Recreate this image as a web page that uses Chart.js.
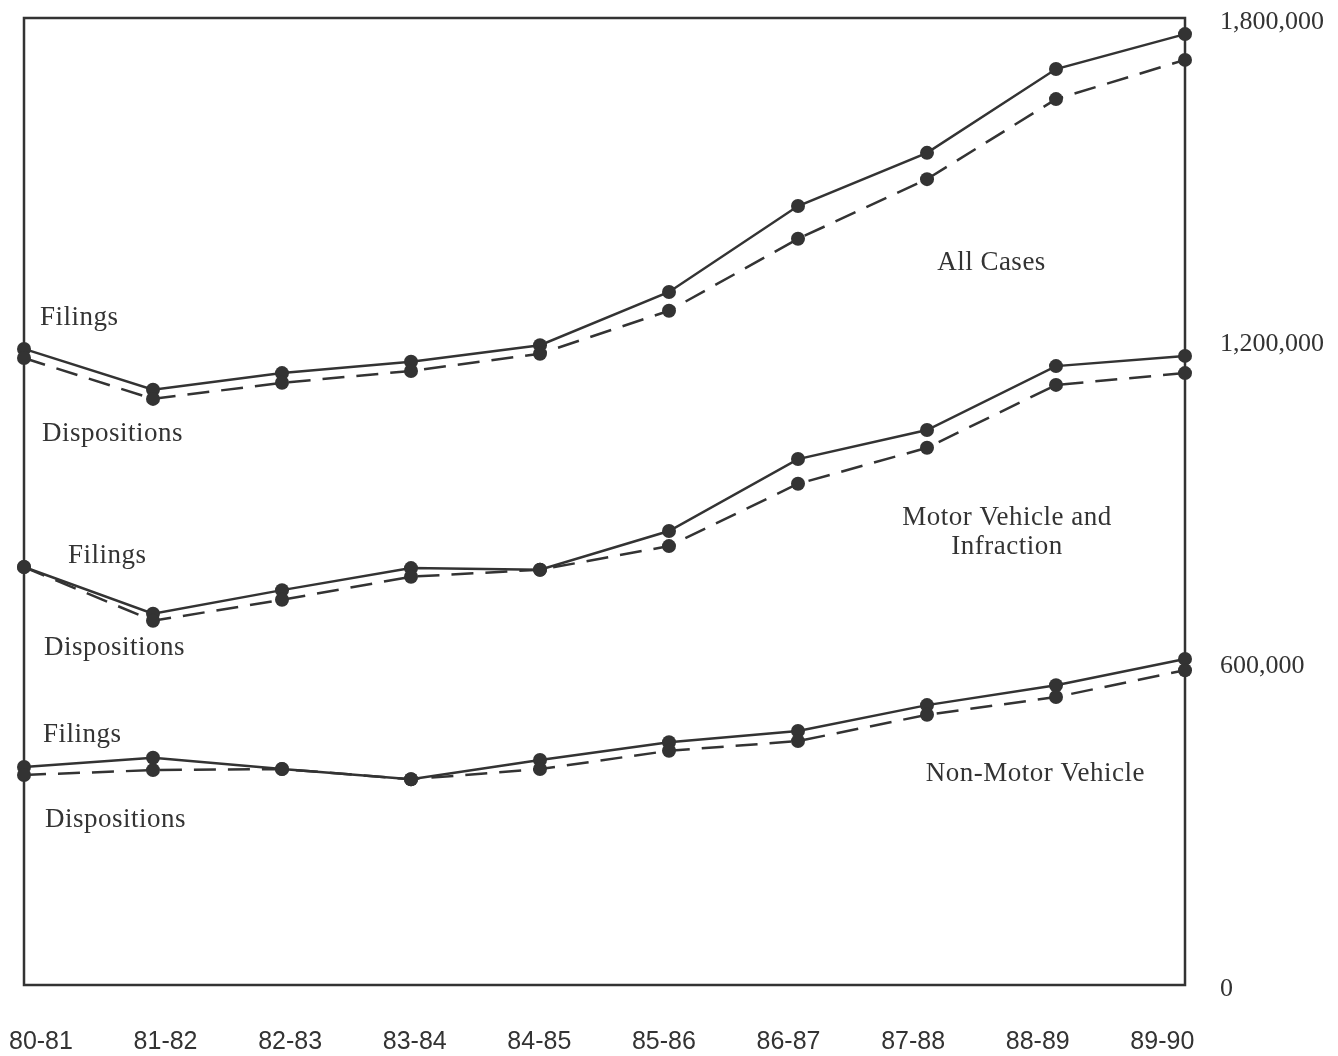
<!DOCTYPE html>
<html>
<head>
<meta charset="utf-8">
<script src="https://cdn.jsdelivr.net/npm/chart.js@4.4.1/dist/chart.umd.min.js"></script>
<style>
  html, body { margin: 0; padding: 0; background: #fff; }
  #wrap { width: 1338px; height: 1056px; }
</style>
</head>
<body>
<div id="wrap"><canvas id="caseChart" width="1338" height="1056"></canvas></div>
<script>
// fiscal years
const years = ['80-81', '81-82', '82-83', '83-84', '84-85', '85-86', '86-87', '87-88', '88-89', '89-90'];

// all cases
const allFilings = [1184000, 1108000, 1139000, 1160000, 1191000, 1290000, 1450000, 1549000, 1705000, 1770000];
const allDispositions = [1167000, 1091000, 1121000, 1143000, 1175000, 1255000, 1389000, 1500000, 1649000, 1722000];

// motor vehicle and infraction
const mvFilings = [778000, 691000, 735000, 776000, 773000, 845000, 979000, 1033000, 1152000, 1171000];
const mvDispositions = [778000, 678000, 717000, 760000, 773000, 817000, 933000, 1000000, 1117000, 1139000];

// non-motor vehicle
const nmvFilings = [406000, 423000, 402000, 383000, 419000, 452000, 473000, 521000, 558000, 607000];
const nmvDispositions = [391000, 400000, 402000, 383000, 402000, 436000, 454000, 503000, 536000, 586000];

const yTicks = [0, 600000, 1200000, 1800000];

// text notes: [text, x (category index), y (value), align]
const notes = [
    ['Filings', 0.124, 1241000, 'left'],
    ['Dispositions', 0.14, 1025000, 'left'],
    ['All Cases', 7.5, 1344000, 'center'],
    ['Filings', 0.341, 798000, 'left'],
    ['Dispositions', 0.155, 627000, 'left'],
    ['Motor Vehicle and', 7.62, 869000, 'center'],
    ['Infraction', 7.62, 815000, 'center'],
    ['Filings', 0.147, 465000, 'left'],
    ['Dispositions', 0.163, 307000, 'left'],
    ['Non-Motor Vehicle', 7.84, 393000, 'center']
];

const ink = '#333333';
const serif = '"Liberation Serif", "Times New Roman", serif';

function series(data, dashed) {
    return {
        data: data,
        borderColor: ink,
        backgroundColor: ink,
        borderWidth: 2.5,
        borderDash: dashed ? [22, 12] : [],
        pointRadius: 7,
        pointHoverRadius: 7,
        pointBackgroundColor: ink,
        pointBorderWidth: 0,
        tension: 0,
        clip: false
    };
}

// frame round the plot area and the text notes
const framePlugin = {
    id: 'frame',
    beforeDatasetsDraw(chart) {
        const a = chart.chartArea;
        const ctx = chart.ctx;
        ctx.save();
        ctx.strokeStyle = ink;
        ctx.lineWidth = 2.5;
        ctx.strokeRect(a.left, a.top, a.right - a.left, a.bottom - a.top);
        ctx.restore();
    },
    afterDatasetsDraw(chart) {
        const ctx = chart.ctx;
        const xs = chart.scales.x;
        const ys = chart.scales.y;
        ctx.save();
        ctx.fillStyle = ink;
        ctx.font = '27px ' + serif;
        ctx.letterSpacing = '0.5px';
        ctx.textBaseline = 'middle';
        notes.forEach(function (n) {
            ctx.textAlign = n[3];
            ctx.fillText(n[0], xs.getPixelForValue(n[1]), ys.getPixelForValue(n[2]));
        });
        ctx.restore();
    }
};

const ctx = document.getElementById('caseChart').getContext('2d');

const myChart = new Chart(ctx, {
    type: 'line',
    data: {
        labels: years,
        datasets: [
            series(allDispositions, true),
            series(allFilings, false),
            series(mvDispositions, true),
            series(mvFilings, false),
            series(nmvDispositions, true),
            series(nmvFilings, false)
        ]
    },
    options: {
        responsive: false,
        animation: false,
        layout: { padding: { left: 24, top: 18, right: 0, bottom: 0 } },
        plugins: {
            legend: { display: false },
            tooltip: { enabled: false }
        },
        scales: {
            x: {
                type: 'category',
                display: false,
                offset: false
            },
            // year labels sit slightly inside the data columns in the original
            xl: {
                type: 'linear',
                position: 'bottom',
                min: -0.136,
                max: 9.182,
                grid: { display: true, drawOnChartArea: false, drawTicks: true, tickLength: 40, color: 'transparent' },
                border: { display: false },
                afterBuildTicks: function (axis) {
                    axis.ticks = years.map(function (y, i) { return { value: i }; });
                },
                afterFit: function (axis) { axis.height = 71; },
                ticks: {
                    autoSkip: false,
                    maxRotation: 0,
                    padding: 2,
                    color: ink,
                    font: { family: '"Liberation Sans", Arial, sans-serif', size: 25 },
                    callback: function (v) { return years[v]; }
                }
            },
            y: {
                position: 'right',
                min: 0,
                max: 1800000,
                grid: { display: true, drawOnChartArea: false, drawTicks: true, tickLength: 33, color: 'transparent' },
                border: { display: false },
                afterBuildTicks: function (axis) {
                    axis.ticks = yTicks.map(function (v) { return { value: v }; });
                },
                afterFit: function (axis) { axis.width = 153; },
                ticks: {
                    padding: 2,
                    labelOffset: 4,
                    color: ink,
                    font: { family: serif, size: 26 },
                    callback: function (v) { return v.toLocaleString('en-US'); }
                }
            }
        }
    },
    plugins: [framePlugin]
});
</script>
</body>
</html>
